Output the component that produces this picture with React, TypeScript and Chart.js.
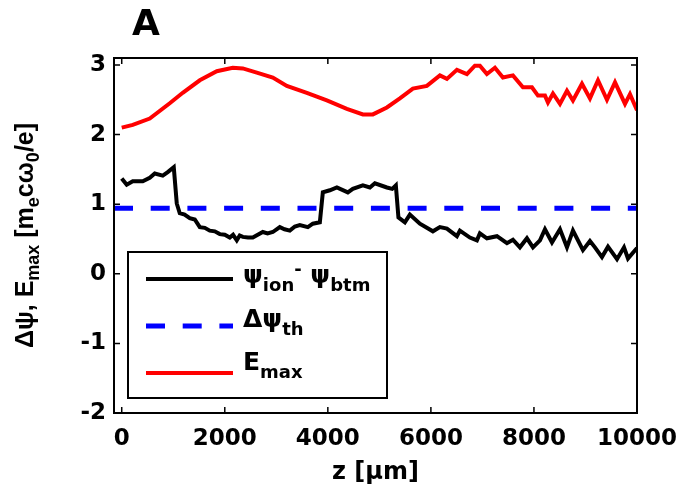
import { useEffect, useRef } from "react";
import { Chart, registerables } from "chart.js";

Chart.register(...registerables);

// ---- data ----
const xTicks = [0, 2000, 4000, 6000, 8000, 10000];
const yTicks = [-2, -1, 0, 1, 2, 3];

const psiZ = [
  0, 97, 214, 408, 544, 641, 796, 893, 1010, 1068, 1126, 1220, 1320, 1418, 1515, 1612, 1709, 1806,
  1903, 2000, 2097, 2161, 2233, 2290, 2350, 2450, 2544, 2640, 2738, 2830, 2932, 3068, 3160, 3262,
  3360, 3456, 3612, 3709, 3845, 3903, 4039, 4175, 4388, 4485, 4680, 4816, 4913, 5146, 5250, 5320,
  5370, 5495, 5592, 5786, 6039, 6175, 6311, 6505, 6563, 6757, 6893, 6951, 7087, 7282, 7476, 7592,
  7728, 7864, 7981, 8117, 8214, 8350, 8505, 8641, 8757, 8951, 9087, 9184, 9320, 9437, 9612, 9748,
  9825, 10000,
];
const psiVals = [
  1.37, 1.28, 1.33, 1.33, 1.38, 1.44, 1.41, 1.46, 1.53, 1.01, 0.87, 0.85, 0.8, 0.78, 0.67, 0.66,
  0.62, 0.61, 0.57, 0.56, 0.52, 0.56, 0.48, 0.55, 0.53, 0.52, 0.52, 0.56, 0.6, 0.58, 0.6, 0.67,
  0.64, 0.62, 0.68, 0.7, 0.67, 0.72, 0.74, 1.17, 1.2, 1.24, 1.17, 1.22, 1.27, 1.24, 1.3, 1.24, 1.22,
  1.27, 0.81, 0.74, 0.85, 0.72, 0.61, 0.67, 0.65, 0.54, 0.62, 0.52, 0.48, 0.58, 0.51, 0.54, 0.44,
  0.49, 0.38, 0.51, 0.38, 0.48, 0.64, 0.45, 0.64, 0.38, 0.62, 0.34, 0.47, 0.38, 0.24, 0.39, 0.21,
  0.38, 0.22, 0.37,
];

const eZ = [
  0, 214, 544, 932, 1184, 1515, 1845, 2155, 2350, 2621, 2932, 3204, 3592, 3981, 4369, 4680, 4874,
  5146, 5398, 5650, 5922, 6175, 6311, 6505, 6699, 6854, 6951, 7087, 7243, 7398, 7592, 7786, 7961,
  8078, 8214, 8272, 8369, 8505, 8641, 8757, 8932, 9087, 9243, 9417, 9573, 9767, 9864, 10000,
];
const eVals = [
  2.1, 2.14, 2.23, 2.45, 2.6, 2.78, 2.91, 2.96, 2.95, 2.89, 2.82, 2.7, 2.6, 2.49, 2.37, 2.29, 2.29,
  2.39, 2.52, 2.66, 2.7, 2.85, 2.8, 2.93, 2.87, 2.99, 2.99, 2.87, 2.96, 2.82, 2.85, 2.68, 2.68, 2.56,
  2.56, 2.46, 2.59, 2.44, 2.63, 2.49, 2.73, 2.52, 2.78, 2.5, 2.75, 2.44, 2.58, 2.35,
];

const thZ = [-150, 10000];
const thVals = [0.94, 0.94];

type Seg = { t: string; k?: "sub" | "sup" };
type Fonts = { main: string; sub: string; subDy: number; supDy: number };

function richWidth(ctx: CanvasRenderingContext2D, segs: Seg[], F: Fonts) {
  let w = 0;
  for (const s of segs) {
    ctx.font = s.k ? F.sub : F.main;
    w += ctx.measureText(s.t).width;
  }
  return w;
}

function drawRich(ctx: CanvasRenderingContext2D, segs: Seg[], x: number, y: number, F: Fonts) {
  let cx = x;
  ctx.textAlign = "left";
  ctx.textBaseline = "alphabetic";
  for (const s of segs) {
    ctx.font = s.k ? F.sub : F.main;
    const dy = s.k === "sub" ? F.subDy : s.k === "sup" ? F.supDy : 0;
    ctx.fillText(s.t, cx, y + dy);
    cx += ctx.measureText(s.t).width;
  }
}

const DV = '"DejaVu Sans"';
const legendFonts: Fonts = { main: `bold 25px ${DV}`, sub: `bold 18px ${DV}`, subDy: 8, supDy: -8 };
const yLabelFonts: Fonts = {
  main: 'bold 25px "Liberation Sans"',
  sub: 'bold 18px "Liberation Sans"',
  subDy: 6,
  supDy: -8,
};

const decor = {
  id: "decor",
  afterDraw(chart: any) {
    const ctx: CanvasRenderingContext2D = chart.ctx;
    const a = chart.chartArea;
    const xs = chart.scales.x;
    const ys = chart.scales.y;
    ctx.save();
    ctx.fillStyle = "#000";
    ctx.strokeStyle = "#000";
    // box
    ctx.lineWidth = 2;
    ctx.strokeRect(a.left, a.top, a.right - a.left, a.bottom - a.top);
    // inner ticks
    ctx.lineWidth = 1.5;
    const tl = 6;
    ctx.beginPath();
    for (const v of xTicks) {
      const px = xs.getPixelForValue(v);
      ctx.moveTo(px, a.bottom);
      ctx.lineTo(px, a.bottom - tl);
      ctx.moveTo(px, a.top);
      ctx.lineTo(px, a.top + tl);
    }
    for (const v of yTicks) {
      const py = ys.getPixelForValue(v);
      ctx.moveTo(a.left, py);
      ctx.lineTo(a.left + tl, py);
      ctx.moveTo(a.right, py);
      ctx.lineTo(a.right - tl, py);
    }
    ctx.stroke();

    // legend
    const lx = 128, ly = 252, lw = 259, lh = 146;
    ctx.fillStyle = "#fff";
    ctx.fillRect(lx, ly, lw, lh);
    ctx.lineWidth = 2;
    ctx.strokeStyle = "#000";
    ctx.strokeRect(lx, ly, lw, lh);
    const entries: { y: number; color: string; w: number; dash: number[]; segs: Seg[]; base: number }[] = [
      {
        y: 279, color: "#000", w: 4, dash: [], base: 283,
        segs: [{ t: "ψ" }, { t: "ion", k: "sub" }, { t: "-", k: "sup" }, { t: " ψ" }, { t: "btm", k: "sub" }],
      },
      { y: 326, color: "#0000ff", w: 5, dash: [19, 17.7], base: 327, segs: [{ t: "Δψ" }, { t: "th", k: "sub" }] },
      { y: 373, color: "#ff0000", w: 4, dash: [], base: 370, segs: [{ t: "E" }, { t: "max", k: "sub" }] },
    ];
    for (const e of entries) {
      ctx.strokeStyle = e.color;
      ctx.lineWidth = e.w;
      ctx.setLineDash(e.dash);
      ctx.beginPath();
      ctx.moveTo(146, e.y);
      ctx.lineTo(233, e.y);
      ctx.stroke();
      ctx.setLineDash([]);
      ctx.fillStyle = "#000";
      drawRich(ctx, e.segs, 243, e.base, legendFonts);
    }

    // title
    ctx.fillStyle = "#000";
    ctx.font = `bold 36px ${DV}`;
    ctx.textAlign = "left";
    ctx.textBaseline = "alphabetic";
    ctx.fillText("A", 132, 35);

    // x label
    ctx.font = `bold 24px ${DV}`;
    ctx.textAlign = "center";
    ctx.fillText("z [μm]", (a.left + a.right) / 2, 479);

    // y label
    const ySegs: Seg[] = [
      { t: "Δψ, E" }, { t: "max", k: "sub" }, { t: " [m" }, { t: "e", k: "sub" },
      { t: "cω" }, { t: "0", k: "sub" }, { t: "/e]" },
    ];
    const w = richWidth(ctx, ySegs, yLabelFonts);
    ctx.translate(33, (a.top + a.bottom) / 2);
    ctx.rotate(-Math.PI / 2);
    drawRich(ctx, ySegs, -w / 2, 0, yLabelFonts);
    ctx.restore();
  },
};

export default function App() {
  const ref = useRef<HTMLCanvasElement>(null);
  useEffect(() => {
    if (!ref.current) return;
    const tickFont = { family: "DejaVu Sans", size: 23, weight: "bold" as const };
    const chart = new Chart(ref.current, {
      type: "line",
      data: {
        datasets: [
          {
            label: "psi",
            data: psiZ.map((x, i) => ({ x, y: psiVals[i] })),
            borderColor: "#000",
            borderWidth: 4,
            pointRadius: 0,
            tension: 0,
          },
          {
            label: "th",
            data: thZ.map((x, i) => ({ x, y: thVals[i] })),
            borderColor: "#0000ff",
            borderWidth: 5,
            borderDash: [19, 17.7],
            pointRadius: 0,
            tension: 0,
          },
          {
            label: "E",
            data: eZ.map((x, i) => ({ x, y: eVals[i] })),
            borderColor: "#ff0000",
            borderWidth: 4,
            pointRadius: 0,
            tension: 0,
          },
        ],
      },
      options: {
        animation: false,
        responsive: false,
        layout: { padding: { top: 58, right: 47, left: 0, bottom: 0 } },
        plugins: { legend: { display: false }, tooltip: { enabled: false }, title: { display: false } },
        scales: {
          x: {
            type: "linear",
            min: -150,
            max: 10000,
            grid: { display: false, drawTicks: false },
            border: { display: false },
            afterBuildTicks: (s: any) => {
              s.ticks = xTicks.map((v) => ({ value: v }));
            },
            afterFit: (s: any) => {
              s.height = 73;
              s.paddingLeft = 0;
              s.paddingRight = 0;
            },
            ticks: {
              font: tickFont,
              color: "#000",
              padding: 12,
              maxRotation: 0,
              autoSkip: false,
              callback: (v: any) => String(v),
            },
          },
          y: {
            type: "linear",
            min: -2,
            max: 3.1,
            grid: { display: false, drawTicks: false },
            border: { display: false },
            afterBuildTicks: (s: any) => {
              s.ticks = yTicks.map((v) => ({ value: v }));
            },
            afterFit: (s: any) => {
              s.width = 114;
              s.paddingTop = 0;
              s.paddingBottom = 0;
            },
            ticks: { font: tickFont, color: "#000", padding: 8, autoSkip: false, callback: (v: any) => String(v) },
          },
        },
      },
      plugins: [decor],
    });
    return () => chart.destroy();
  }, []);
  return (
    <div style={{ position: "fixed", left: 0, top: 0, width: 684, height: 486, background: "#fff" }}>
      <canvas ref={ref} width={684} height={486} style={{ display: "block" }} />
    </div>
  );
}
